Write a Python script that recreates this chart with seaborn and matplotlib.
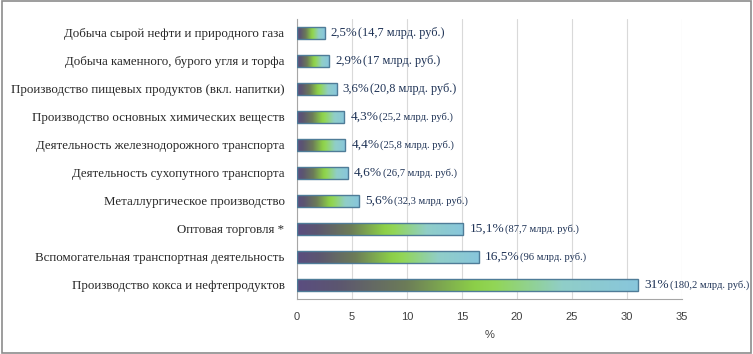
import matplotlib
matplotlib.use("Agg")
import matplotlib.pyplot as plt
import numpy as np
import pandas as pd
import seaborn as sns
from matplotlib.colors import LinearSegmentedColormap
from matplotlib.patches import Rectangle

# data (top to bottom)
categories = [
    "Добыча сырой нефти и природного газа",
    "Добыча каменного, бурого угля и торфа",
    "Производство пищевых продуктов (вкл. напитки)",
    "Производство основных химических веществ",
    "Деятельность железнодорожного транспорта",
    "Деятельность сухопутного транспорта",
    "Металлургическое производство",
    "Оптовая торговля *",
    "Вспомогательная транспортная деятельность",
    "Производство кокса и нефтепродуктов",
]
shares = [2.5, 2.9, 3.6, 4.3, 4.4, 4.6, 5.6, 15.1, 16.5, 31.0]
pct_labels = ["2,5%", "2,9%", "3,6%", "4,3%", "4,4%", "4,6%", "5,6%", "15,1%", "16,5%", "31%"]
rub_labels = ["(14,7 млрд. руб.)", "(17 млрд. руб.)", "(20,8 млрд. руб.)", "(25,2 млрд. руб.)",
              "(25,8 млрд. руб.)", "(26,7 млрд. руб.)", "(32,3 млрд. руб.)", "(87,7 млрд. руб.)",
              "(96 млрд. руб.)", "(180,2 млрд. руб.)"]
xticks = [0, 5, 10, 15, 20, 25, 30, 35]

df = pd.DataFrame({"cat": categories, "share": shares})

sns.set_style("white")
plt.rcParams["font.family"] = ["Liberation Serif", "DejaVu Serif"]

fig = plt.figure(figsize=(7.53, 3.54), dpi=100)
ax = fig.add_axes([297 / 753, 1 - 299 / 354, 385 / 753, 280 / 354])

sns.barplot(data=df, x="share", y="cat", orient="h", ax=ax, width=0.4,
            facecolor="none", edgecolor="#4f7c98", linewidth=1.0, zorder=3)

# gradient fill inside every bar
cmap = LinearSegmentedColormap.from_list("bar", [
    (0.0, "#5a4d80"), (0.12, "#5c5670"), (0.32, "#6c7c58"),
    (0.52, "#8ccf48"), (0.58, "#92d656"), (0.78, "#90cec8"), (1.0, "#88c6dc")])
grad = np.linspace(0, 1, 256).reshape(1, -1)
for p in ax.patches:
    x0, y0 = p.get_x(), p.get_y()
    w, h = p.get_width(), p.get_height()
    im = ax.imshow(grad, cmap=cmap, aspect="auto", extent=[x0, x0 + w, y0 + h, y0],
                   zorder=2, interpolation="bicubic")
    im.set_clip_path(p)

ax.set_xlim(0, 35)
ax.set_ylim(len(categories) - 0.5, -0.5)
ax.set_xticks(xticks)
ax.xaxis.grid(True, color="#d9d9d9", linewidth=0.8, zorder=0)
ax.set_axisbelow(True)

for s in ["top", "right"]:
    ax.spines[s].set_visible(False)
for s in ["left", "bottom"]:
    ax.spines[s].set_color("#a6a6a6")
    ax.spines[s].set_linewidth(0.8)

ax.set_yticks(np.arange(len(categories)))
ax.set_yticklabels(categories, fontsize=9.3, color="#262626")
ax.set_yticks(np.arange(len(categories) + 1) - 0.5, minor=True)
ax.tick_params(axis="y", which="major", length=0, pad=9)
ax.tick_params(axis="y", which="minor", length=4, color="#a6a6a6", direction="out")
ax.tick_params(axis="x", length=4, color="#a6a6a6", direction="out", pad=5)
for t in ax.get_xticklabels():
    t.set_family(["Liberation Sans", "DejaVu Sans"])
    t.set_fontsize(8)
    t.set_color("#404040")

ax.set_ylabel("")
ax.set_xlabel("%", fontsize=8, color="#404040", family=["Liberation Sans", "DejaVu Sans"], labelpad=6)

# value labels
for i, (v, pl, rl) in enumerate(zip(shares, pct_labels, rub_labels)):
    t1 = ax.annotate(pl, xy=(v, i), xytext=(4.5, 0), textcoords="offset points",
                     va="center", ha="left", fontsize=9.3 if i < 3 else 9.6, color="#1f3356")
    ax.annotate(rl, xy=(1, 0.5), xycoords=t1, xytext=(0.5, 0), textcoords="offset points",
                va="center", ha="left", fontsize=8.8 if i < 3 else 7.6, color="#1f3356")

# outer frame
fig.patches.append(Rectangle((0.002, 0.004), 0.995, 0.992, transform=fig.transFigure,
                             fill=False, edgecolor="#8c8c8c", linewidth=1.2))

fig.savefig("out.png", dpi=100)
